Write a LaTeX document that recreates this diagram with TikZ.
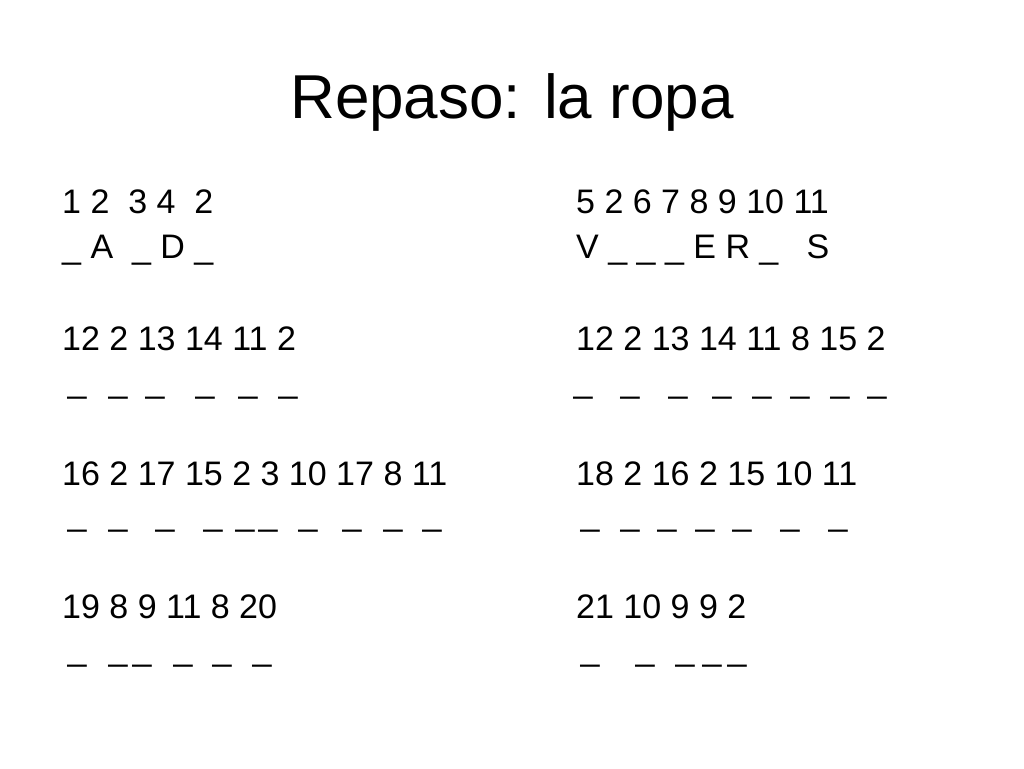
\documentclass[tikz,border=0pt]{standalone}
\usepackage{fontspec}
\setmainfont{Liberation Sans}
\begin{document}
\begin{tikzpicture}[x=1pt,y=-1pt,
  txt/.style={anchor=base west,inner sep=0pt,font=\fontsize{34}{38}\selectfont},
  us/.style={anchor=base,inner sep=0pt,font=\fontsize{34}{38}\selectfont}]
\useasboundingbox (0,0) rectangle (1024,768);
\node[anchor=base,inner sep=0pt,font=\fontsize{62}{66}\selectfont] (title) at (512,118) {Repaso: la ropa};
\node[txt] (l1) at (62,213) {1 2\ \ 3 4\ \ 2};
\node[txt] (l2) at (62,258) {\_ A\ \ \_ D \_};
\node[txt] (l3) at (62,350) {12 2 13 14 11 2};
\node[txt] (l4) at (62,485) {16 2 17 15 2 3 10 17 8 11};
\node[txt] (l5) at (62,618) {19 8 9 11 8 20};
\node[txt] (r1) at (576,213) {5 2 6 7 8 9 10 11};
\node[txt] (r2) at (576,258) {V \_ \_ \_ E R \_\ \ \ S};
\node[txt] (r3) at (576,350) {12 2 13 14 11 8 15 2};
\node[txt] (r4) at (576,485) {18 2 16 2 15 10 11};
\node[txt] (r5) at (576,618) {21 10 9 9 2};
\foreach \x [count=\i] in {77,118,155,205,248,288}{\node[us] (a\i) at (\x,392) {\_};}
\foreach \x [count=\i] in {583,630,678,722,762,800,840,877}{\node[us] (b\i) at (\x,392) {\_};}
\foreach \x [count=\i] in {77,118,165,213,245,268,308,352,393,432}{\node[us] (c\i) at (\x,525) {\_};}
\foreach \x [count=\i] in {590,630,667,705,742,790,838}{\node[us] (d\i) at (\x,525) {\_};}
\foreach \x [count=\i] in {77,118,142,183,222,262}{\node[us] (e\i) at (\x,660) {\_};}
\foreach \x [count=\i] in {590,645,685,712,737}{\node[us] (f\i) at (\x,660) {\_};}
\end{tikzpicture}
\end{document}
